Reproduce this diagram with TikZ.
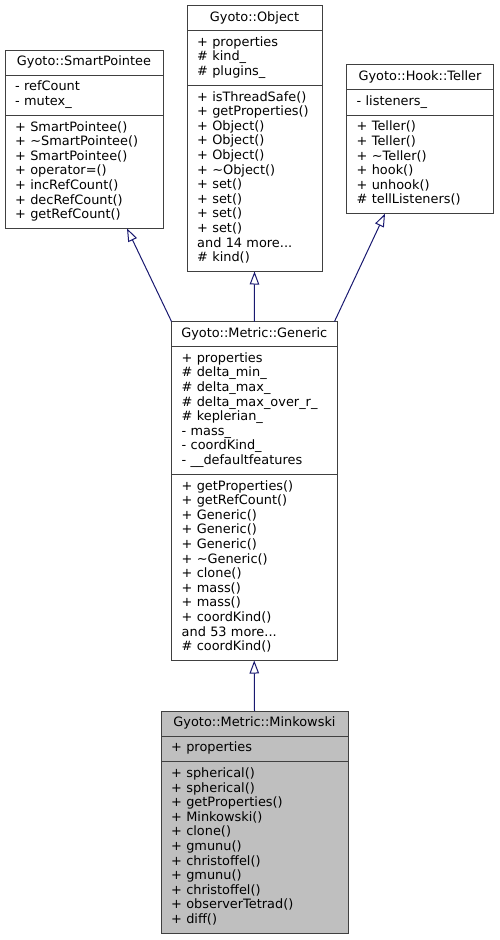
\documentclass[tikz,border=0pt]{standalone}
\usepackage{fontspec}
\setmainfont{DejaVu Sans}
\usetikzlibrary{arrows.meta,positioning,calc}

\definecolor{boxline}{RGB}{64,64,64}
\definecolor{edgeblue}{RGB}{25,25,112}
\definecolor{curgray}{RGB}{191,191,191}
\newcommand{\umlfont}{\fontsize{12.9pt}{14.6pt}\selectfont}

\begin{document}
\begin{tikzpicture}[x=1pt, y=-1pt,
    part/.style={rectangle, draw=boxline, line width=1pt, fill=white,
                 inner sep=0pt, outer sep=0pt},
    curpart/.style={part, fill=curgray},
    classtitle/.style={anchor=base, inner sep=0pt, font=\umlfont},
    memberlist/.style={anchor=base west, inner sep=0pt, text width=200pt,
                       align=left, font=\umlfont},
    inherit/.style={draw=edgeblue, line width=1pt,
                    -{Triangle[open, length=13pt, width=9.5pt]}}]

    \useasboundingbox (0,0) rectangle (499,940);

    % Gyoto::SmartPointee
    \node[part,
          anchor = north west,
          minimum width = 158,
          minimum height = 25
          ] (spname) at (5,50) {};
    \node[part,
          minimum width = 158,
          minimum height = 40.2,
          below = 0pt of spname
          ] (spattr) {};
    \node[part,
          minimum width = 158,
          minimum height = 113.2,
          below = 0pt of spattr
          ] (spops) {};
    \node[classtitle] (sptitle) at ($(spname.north)+(0,15.8)$) {Gyoto::SmartPointee};
    \node[memberlist] (spattrtxt) at ($(spattr.north west)+(10,15.8)$)
        {- refCount\\- mutex\_};
    \node[memberlist] (spopstxt) at ($(spops.north west)+(10,15.8)$)
        {+ SmartPointee()\\+ \textasciitilde SmartPointee()\\+ SmartPointee()\\+ operator=()\\+ incRefCount()\\+ decRefCount()\\+ getRefCount()};

    % Gyoto::Object
    \node[part,
          anchor = north west,
          minimum width = 135,
          minimum height = 25
          ] (objname) at (187,5.5) {};
    \node[part,
          minimum width = 135,
          minimum height = 54.8,
          below = 0pt of objname
          ] (objattr) {};
    \node[part,
          minimum width = 135,
          minimum height = 186.2,
          below = 0pt of objattr
          ] (objops) {};
    \node[classtitle] (objtitle) at ($(objname.north)+(0,15.8)$) {Gyoto::Object};
    \node[memberlist] (objattrtxt) at ($(objattr.north west)+(10,15.8)$)
        {+ properties\\\# kind\_\\\# plugins\_};
    \node[memberlist] (objopstxt) at ($(objops.north west)+(10,15.8)$)
        {+ isThreadSafe()\\+ getProperties()\\+ Object()\\+ Object()\\+ Object()\\+ \textasciitilde Object()\\+ set()\\+ set()\\+ set()\\+ set()\\and 14 more...\\\# kind()};

    % Gyoto::Hook::Teller
    \node[part,
          anchor = north west,
          minimum width = 147,
          minimum height = 25
          ] (telname) at (346.5,64.5) {};
    \node[part,
          minimum width = 147,
          minimum height = 25.6,
          below = 0pt of telname
          ] (telattr) {};
    \node[part,
          minimum width = 147,
          minimum height = 98.6,
          below = 0pt of telattr
          ] (telops) {};
    \node[classtitle] (teltitle) at ($(telname.north)+(0,15.8)$) {Gyoto::Hook::Teller};
    \node[memberlist] (telattrtxt) at ($(telattr.north west)+(10,15.8)$)
        {- listeners\_};
    \node[memberlist] (telopstxt) at ($(telops.north west)+(10,15.8)$)
        {+ Teller()\\+ Teller()\\+ \textasciitilde Teller()\\+ hook()\\+ unhook()\\\# tellListeners()};

    % Gyoto::Metric::Generic
    \node[part,
          anchor = north west,
          minimum width = 165.5,
          minimum height = 25
          ] (genname) at (171.5,321.5) {};
    \node[part,
          minimum width = 165.5,
          minimum height = 127.8,
          below = 0pt of genname
          ] (genattr) {};
    \node[part,
          minimum width = 165.5,
          minimum height = 186.2,
          below = 0pt of genattr
          ] (genops) {};
    \node[classtitle] (gentitle) at ($(genname.north)+(0,15.8)$) {Gyoto::Metric::Generic};
    \node[memberlist] (genattrtxt) at ($(genattr.north west)+(10,15.8)$)
        {+ properties\\\# delta\_min\_\\\# delta\_max\_\\\# delta\_max\_over\_r\_\\\# keplerian\_\\- mass\_\\- coordKind\_\\- \_\_defaultfeatures};
    \node[memberlist] (genopstxt) at ($(genops.north west)+(10,15.8)$)
        {+ getProperties()\\+ getRefCount()\\+ Generic()\\+ Generic()\\+ Generic()\\+ \textasciitilde Generic()\\+ clone()\\+ mass()\\+ mass()\\+ coordKind()\\and 53 more...\\\# coordKind()};

    % Gyoto::Metric::Minkowski
    \node[curpart,
          anchor = north west,
          minimum width = 187,
          minimum height = 25
          ] (minkname) at (161,711) {};
    \node[curpart,
          minimum width = 187,
          minimum height = 25.6,
          below = 0pt of minkname
          ] (minkattr) {};
    \node[curpart,
          minimum width = 187,
          minimum height = 171.6,
          below = 0pt of minkattr
          ] (minkops) {};
    \node[classtitle] (minktitle) at ($(minkname.north)+(0,15.8)$) {Gyoto::Metric::Minkowski};
    \node[memberlist] (minkattrtxt) at ($(minkattr.north west)+(10,15.8)$)
        {+ properties};
    \node[memberlist] (minkopstxt) at ($(minkops.north west)+(10,15.8)$)
        {+ spherical()\\+ spherical()\\+ getProperties()\\+ Minkowski()\\+ clone()\\+ gmunu()\\+ christoffel()\\+ gmunu()\\+ christoffel()\\+ observerTetrad()\\+ diff()};

    \coordinate (sptip) at ($(spops.south west)+(122,0)$);
    \coordinate (teltip) at ($(telops.south west)+(38.5,0)$);
    \coordinate (genright) at ($(genname.north east)+(-2.5,0)$);

    \path
    %base classes
    (genname.north west) edge [inherit] (sptip)
    (genname.north) edge [inherit] (objops.south)
    (genright) edge [inherit] (teltip)
    %derived class
    (minkname.north) edge [inherit] (genops.south);

\end{tikzpicture}
\end{document}
